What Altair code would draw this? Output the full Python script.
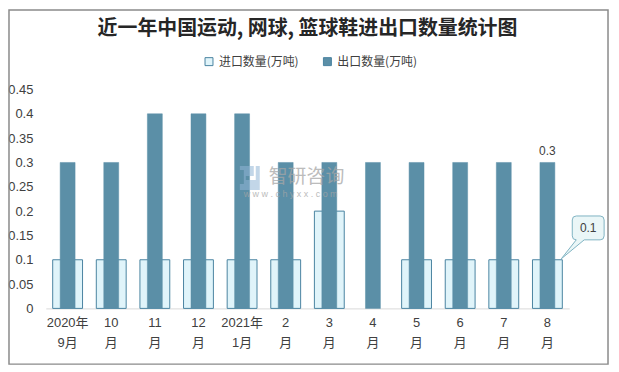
import altair as alt
import pandas as pd

months = ["2020年\n9月", "10\n月", "11\n月", "12\n月", "2021年\n1月", "2\n月",
          "3\n月", "4\n月", "5\n月", "6\n月", "7\n月", "8\n月"]
imports = [0.1, 0.1, 0.1, 0.1, 0.1, 0.1, 0.2, 0, 0.1, 0.1, 0.1, 0.1]
exports = [0.3, 0.3, 0.4, 0.4, 0.4, 0.3, 0.3, 0.3, 0.3, 0.3, 0.3, 0.3]
series = ["进口数量(万吨)", "出口数量(万吨)"]
y_ticks = [0, 0.05, 0.1, 0.15, 0.2, 0.25, 0.3, 0.35, 0.4, 0.45]
title_text = "近一年中国运动, 网球, 篮球鞋进出口数量统计图"

df = pd.DataFrame({
    "month": months * 2,
    "value": imports + exports,
    "series": [series[0]] * 12 + [series[1]] * 12,
})

CJK = "Noto Sans CJK SC"
NUM = "Liberation Sans, Noto Sans CJK SC"

W, H = 526, 220

x_enc = alt.X("month:N", sort=months, scale=alt.Scale(paddingInner=0, paddingOuter=0),
              axis=alt.Axis(title=None, labelAngle=0, ticks=False, domainColor="#d9d9d9",
                            labelExpr="split(datum.label, '\\n')", labelLineHeight=20,
                            labelPadding=8, labelFont=NUM, labelFontSize=13,
                            labelColor="#404040", labelBaseline="top"))
y_enc = alt.Y("value:Q", scale=alt.Scale(domain=[0, 0.45], nice=False),
              axis=alt.Axis(title=None, values=y_ticks, format=".2~f", grid=False,
                            domain=False, ticks=False, labelPadding=13, labelFont=NUM,
                            labelFontSize=13, labelColor="#404040", labelOverlap=False,
                            labelBound=False))
color_enc = alt.Color("series:N", sort=series,
                      scale=alt.Scale(domain=series, range=["#e0f4fa", "#5b8fa7"]),
                      legend=alt.Legend(title=None, orient="none", direction="horizontal",
                                        legendX=158, legendY=-34, symbolType="square",
                                        symbolSize=64, symbolStrokeColor="#4a83a0",
                                        symbolStrokeWidth=1, labelFont=CJK, labelFontSize=12,
                                        labelColor="#404040", labelOffset=4,
                                        columnPadding=22, padding=0))

base = alt.Chart(df)

imp = base.transform_filter(
    (alt.datum.series == series[0]) & (alt.datum.value > 0)
).mark_bar(size=30, stroke="#4a83a0", strokeWidth=1).encode(x=x_enc, y=y_enc, color=color_enc)

exp = base.transform_filter(alt.datum.series == series[1]).mark_bar(
    size=15, stroke="#5b8fa7", strokeWidth=0.5).encode(x=x_enc, y=y_enc, color=color_enc)

last_exp = base.transform_filter(
    (alt.datum.series == series[1]) & (alt.datum.month == months[-1])
).mark_text(dy=-12, font=NUM, fontSize=12, color="#404040").encode(
    x=x_enc, y=y_enc, text=alt.Text("value:Q", format=".1f"))

callout_path = ("M 29,-20 L 14,-1 L 37,-20 L 53,-20 Q 57,-20 57,-24 L 57,-40 Q 57,-44 53,-44 "
                "L 29,-44 Q 25,-44 25,-40 L 25,-24 Q 25,-20 29,-20 Z")
last_imp_df = base.transform_filter(
    (alt.datum.series == series[0]) & (alt.datum.month == months[-1]))
callout_box = last_imp_df.mark_point(shape=callout_path, size=4, filled=True, opacity=1,
                                     fill="#eaf6f7", stroke="#7fb2c2", strokeWidth=1).encode(
    x=x_enc, y=y_enc)
callout_text = last_imp_df.mark_text(dx=41, dy=-32, font=NUM, fontSize=12, color="#404040").encode(
    x=x_enc, y=y_enc, text=alt.Text("value:Q", format=".1f"))

logo_path = ("M -10,-12 L 4,-12 L 4,-2 L -4,-2 L -4,2 L 6,2 L 6,-12 L 10,-12 L 10,12 "
             "L -10,12 L -10,6 L 4,6 L 4,8 L -6,8 L -6,-8 L -10,-8 Z")
logo = alt.Chart(pd.DataFrame({"a": [0]})).mark_point(
    shape=logo_path, size=4, filled=True, fill="#8fb4d6", opacity=0.55, strokeWidth=0).encode(
    x=alt.value(205), y=alt.value(89))
wm = pd.DataFrame({"t": ["智研咨询"]})
wm1 = alt.Chart(wm).mark_text(font=CJK, fontSize=19, color="#a6a6a6", opacity=0.75).encode(
    x=alt.value(262), y=alt.value(88), text="t:N")
wm2 = alt.Chart(pd.DataFrame({"t": ["w w w . c h y x x . c o m"]})).mark_text(
    font=NUM, fontSize=9, color="#a6a6a6", opacity=0.75).encode(
    x=alt.value(246), y=alt.value(105), text="t:N")

frame = alt.Chart(pd.DataFrame({"a": [0]})).mark_rect(
    fill="transparent", stroke="#8a8a8a", strokeWidth=1.5).encode(
    x=alt.value(-37), x2=alt.value(565), y=alt.value(-80), y2=alt.value(276))

chart = alt.layer(frame, imp, exp, last_exp, callout_box, callout_text, logo, wm1, wm2).properties(
    width=W, height=H,
    title=alt.TitleParams(text=title_text, font=CJK, fontSize=20, fontWeight="bold",
                          color="#262626", anchor="middle", offset=-30),
    autosize=alt.AutoSizeParams(type="none"),
    padding={"left": 38, "top": 81, "right": 42, "bottom": 60},
).configure_view(stroke=None)

chart.save("out.html", embed_options={"renderer": "svg", "actions": False})
